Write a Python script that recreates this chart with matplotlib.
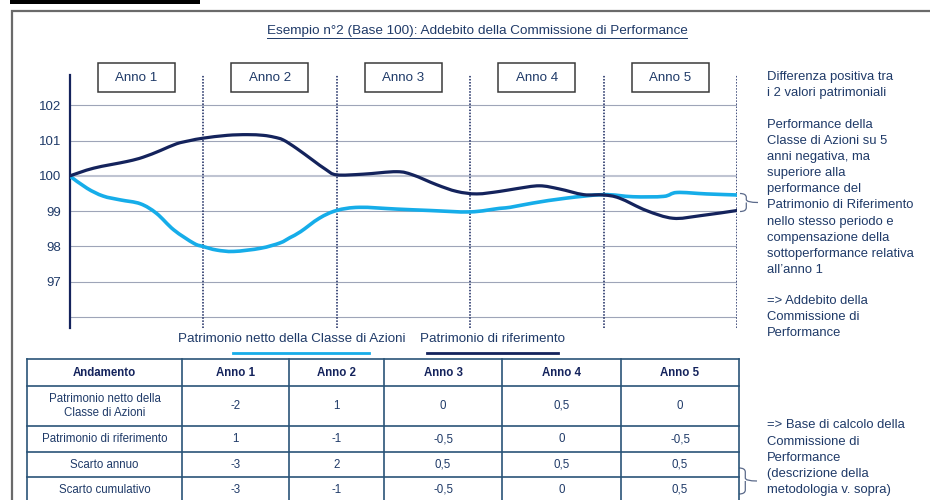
import matplotlib
matplotlib.use('Agg')
import matplotlib.pyplot as plt
from matplotlib.patches import Rectangle, PathPatch
from matplotlib.path import Path

plt.rcParams['font.family'] = ['Liberation Sans', 'DejaVu Sans']

# ---------------- data ----------------
title = "Esempio n°2 (Base 100): Addebito della Commissione di Performance"
years = ["Anno 1", "Anno 2", "Anno 3", "Anno 4", "Anno 5"]
y_ticks = [97, 98, 99, 100, 101, 102]
grid_levels = [96, 97, 98, 99, 100, 101, 102]

# Patrimonio di riferimento (navy) (x in years)
rif_x = [0, 0.18, 0.43, 0.55, 0.68, 0.80, 0.90, 1.0, 1.18, 1.33, 1.45, 1.53, 1.60, 1.70,
         1.82, 1.92, 2.0, 2.2, 2.45, 2.57, 2.75, 2.9, 3.05, 3.22, 3.35, 3.52, 3.67,
         3.85, 4.0, 4.12, 4.32, 4.52, 4.72, 5.0]
rif_y = [100, 100.22, 100.41, 100.53, 100.72, 100.91, 101.0, 101.07, 101.15, 101.17, 101.15,
         101.10, 101.02, 100.78, 100.45, 100.18, 100.03, 100.05, 100.12, 100.03, 99.75, 99.56,
         99.49, 99.56, 99.64, 99.72, 99.63, 99.47, 99.46, 99.37, 99.02, 98.80, 98.87, 99.02]

# Patrimonio netto della Classe di Azioni (light blue)
cls_x = [0, 0.13, 0.25, 0.38, 0.53, 0.65, 0.78, 0.93, 1.0, 1.1, 1.23, 1.43, 1.575, 1.65,
         1.73, 1.87, 2.0, 2.17, 2.45, 2.7, 3.0, 3.22, 3.3, 3.47, 3.72, 4.0, 4.22, 4.45,
         4.55, 4.77, 5.0]
cls_y = [100, 99.65, 99.43, 99.32, 99.21, 98.94, 98.47, 98.09, 98.0, 97.9, 97.86, 97.95,
         98.1, 98.25, 98.42, 98.80, 99.02, 99.11, 99.06, 99.02, 98.98, 99.08, 99.11, 99.23,
         99.37, 99.47, 99.41, 99.42, 99.53, 99.49, 99.46]

legend_labels = ["Patrimonio netto della Classe di Azioni", "Patrimonio di riferimento"]

table_header = ["Andamento", "Anno 1", "Anno 2", "Anno 3", "Anno 4", "Anno 5"]
row_labels = ["Patrimonio netto della\nClasse di Azioni", "Patrimonio di riferimento",
              "Scarto annuo", "Scarto cumulativo"]
row_classe = ["-2", "1", "0", "0,5", "0"]
row_rif = ["1", "-1", "-0,5", "0", "-0,5"]
row_scarto = ["-3", "2", "0,5", "0,5", "0,5"]
row_cumul = ["-3", "-1", "-0,5", "0", "0,5"]

note1 = ["Differenza positiva tra", "i 2 valori patrimoniali"]
note2 = ["Performance della", "Classe di Azioni su 5", "anni negativa, ma", "superiore alla",
         "performance del", "Patrimonio di Riferimento", "nello stesso periodo e",
         "compensazione della", "sottoperformance relativa", "all\u2019anno 1"]
note3 = ["=> Addebito della", "Commissione di", "Performance"]
note4 = ["=> Base di calcolo della", "Commissione di", "Performance", "(descrizione della",
         "metodologia v. sopra)"]

# ---------------- style ----------------
NAVY = '#14235c'
LIGHT = '#16ade9'
TXT = '#1f3a68'
GRID = '#9ea5b8'
TBL = '#2a5478'

W, H = 930, 500
fig = plt.figure(figsize=(W / 100, H / 100), dpi=100)
ov = fig.add_axes([0, 0, 1, 1])
ov.set_xlim(0, W)
ov.set_ylim(H, 0)
ov.axis('off')

# page decorations
ov.add_patch(Rectangle((10, 0), 190, 3.5, color='black', lw=0))
ov.plot([12, 12, W + 5], [H + 5, 11, 11], color='#6a6a6a', lw=1.6, solid_joinstyle='miter')

# title with underline
t = ov.text(477, 31, title, ha='center', va='center', fontsize=9.7, color=TXT)
fig.canvas.draw()
bb = t.get_window_extent().transformed(ov.transData.inverted())
ov.plot([bb.x0, bb.x1], [37.5, 37.5], color=TXT, lw=0.7)

# ---------------- chart ----------------
ax_left, ax_right, ax_top, ax_bot = 69.7, 737, 75, 328
ax = fig.add_axes([ax_left / W, 1 - ax_bot / H, (ax_right - ax_left) / W, (ax_bot - ax_top) / H])
ax.patch.set_alpha(0)
ax.set_xlim(0, 5)
ax.set_ylim(95.69, 102.86)
for v in grid_levels:
    ax.axhline(v, color=GRID if v != 100 else '#bfc4d2', lw=0.8 if v != 100 else 1.5, zorder=1)
for i in range(1, 6):
    ax.axvline(i, color=NAVY, lw=1.1, ls=(0, (1, 1)), zorder=2)


def smooth_line(xs, ys, color, lw, z):
    """Smooth (Catmull-Rom style) Bezier path through the read points."""
    pts = list(zip(xs, ys))
    n = len(pts)
    verts = [pts[0]]
    codes = [Path.MOVETO]
    for i in range(n - 1):
        p0 = pts[i - 1] if i > 0 else pts[i]
        p1 = pts[i]
        p2 = pts[i + 1]
        p3 = pts[i + 2] if i + 2 < n else pts[i + 1]
        c1 = (p1[0] + (p2[0] - p0[0]) / 6, p1[1] + (p2[1] - p0[1]) / 6)
        c2 = (p2[0] - (p3[0] - p1[0]) / 6, p2[1] - (p3[1] - p1[1]) / 6)
        verts += [c1, c2, p2]
        codes += [Path.CURVE4] * 3
    ax.add_patch(PathPatch(Path(verts, codes), fill=False, ec=color, lw=lw,
                           capstyle='round', joinstyle='round', zorder=z))


smooth_line(cls_x, cls_y, LIGHT, 2.6, 3)
smooth_line(rif_x, rif_y, NAVY, 2.3, 4)

for s in ['top', 'right', 'bottom']:
    ax.spines[s].set_visible(False)
ax.spines['left'].set_color(NAVY)
ax.spines['left'].set_linewidth(1.6)
ax.set_xticks([])
ax.set_yticks(y_ticks)
ax.set_yticklabels([str(v) for v in y_ticks])
ax.tick_params(axis='y', length=0, pad=6, labelsize=9.5, labelcolor=TXT)

# year boxes
step = (ax_right - ax_left) / len(years)
for i, lab in enumerate(years):
    cx = ax_left + (i + 0.5) * step
    ov.add_patch(Rectangle((cx - 38.5, 63), 77, 29, fill=False, ec='#3a3a3a', lw=1.1))
    ov.text(cx, 78, lab, ha='center', va='center', fontsize=9.6, color=TXT)

# legend
ov.text(178, 339, legend_labels[0], ha='left', va='center', fontsize=9.6, color=TXT)
ov.plot([233, 369], [352.7, 352.7], color=LIGHT, lw=2)
ov.text(420, 339, legend_labels[1], ha='left', va='center', fontsize=9.6, color=TXT)
ov.plot([427, 558], [352.7, 352.7], color=NAVY, lw=2)

# ---------------- table ----------------
col_x = [27, 182, 289, 384, 502, 621, 739]
row_y = [359, 386, 426, 452, 477, 503]
for x in col_x:
    ov.plot([x, x], [row_y[0], row_y[-1]], color=TBL, lw=1.2)
for y in row_y:
    ov.plot([col_x[0], col_x[-1]], [y, y], color=TBL, lw=1.2)
body = [row_classe, row_rif, row_scarto, row_cumul]
for j, h in enumerate(table_header):
    ov.text((col_x[j] + col_x[j + 1]) / 2, (row_y[0] + row_y[1]) / 2, h, ha='center',
            va='center', fontsize=8.3, fontweight='bold', color=NAVY)
for r, (lab, vals) in enumerate(zip(row_labels, body)):
    yc = (row_y[r + 1] + row_y[r + 2]) / 2
    ov.text((col_x[0] + col_x[1]) / 2, yc, lab, ha='center', va='center', fontsize=8.3,
            color=TXT, linespacing=1.3)
    for j, v in enumerate(vals):
        ov.text((col_x[j + 1] + col_x[j + 2]) / 2, yc, v, ha='center', va='center',
                fontsize=8.3, color=TXT)


# ---------------- notes ----------------
def lines(block, y0, dy=16.1, x=767):
    for k, s in enumerate(block):
        ov.text(x, y0 + k * dy, s, ha='left', va='center', fontsize=9.4, color=TXT)


lines(note1, 76.7, 16.6)
lines(note2, 125)
lines(note3, 300.7, 16)
lines(note4, 425.5, 16.2)


def brace(x0, y0, y1, w, color='#5b6a8a'):
    ym = (y0 + y1) / 2
    a = w * 0.35
    verts = [(x0, y0), (x0 + a, y0), (x0 + a, y0 + 4),
             (x0 + a, ym - 3), (x0 + a, ym), (x0 + w, ym),
             (x0 + a, ym), (x0 + a, ym + 3),
             (x0 + a, y1 - 4), (x0 + a, y1), (x0, y1)]
    codes = [Path.MOVETO, Path.CURVE3, Path.CURVE3,
             Path.LINETO, Path.CURVE3, Path.LINETO,
             Path.MOVETO, Path.CURVE3,
             Path.LINETO, Path.CURVE3, Path.CURVE3]
    ov.add_patch(PathPatch(Path(verts, codes), fill=False, ec=color, lw=0.9))


brace(740, 193.5, 211.5, 18)
brace(739, 468, 494, 18)

fig.savefig('out.png', dpi=100)
